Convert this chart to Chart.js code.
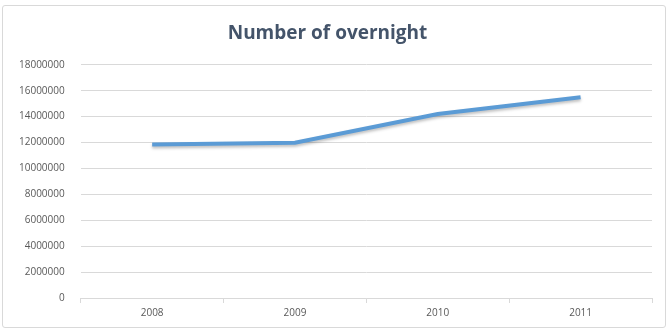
<!DOCTYPE html>
<html>
<head>
<meta charset="utf-8">
<script src="https://cdn.jsdelivr.net/npm/chart.js@4/dist/chart.umd.min.js"></script>
<style>
  html, body { margin: 0; padding: 0; background: #fff; }
  #wrap {
    position: absolute; left: 2px; top: 5px;
    width: 662px; height: 321px;
    border: 1px solid #d9d9d9; border-radius: 3px;
    background: #fff;
  }
</style>
</head>
<body>
<div id="wrap"><canvas id="overnightChart"></canvas></div>
<script>
// Data
const years = ['2008', '2009', '2010', '2011'];
const overnights = [11850000, 11980000, 14200000, 15500000];
const yTicks = [0, 2000000, 4000000, 6000000, 8000000, 10000000, 12000000, 14000000, 16000000, 18000000];

// soft drop shadow under the line, like the office chart
const shadowLine = {
    id: 'shadowLine',
    beforeDatasetsDraw(chart) {
        const ctx = chart.ctx;
        ctx.save();
        ctx.shadowColor = 'rgba(0, 0, 0, 0.25)';
        ctx.shadowBlur = 3;
        ctx.shadowOffsetY = 2;
    },
    afterDatasetsDraw(chart) {
        chart.ctx.restore();
    }
};

document.addEventListener('DOMContentLoaded', () => {
    const ctx = document.getElementById('overnightChart').getContext('2d');
    new Chart(ctx, {
        type: 'line',
        data: {
            labels: years,
            datasets: [{
                label: 'Number of overnight',
                data: overnights,
                borderColor: '#5b9bd5',
                borderWidth: 4,
                pointRadius: 0,
                tension: 0,
                fill: false
            }]
        },
        options: {
            responsive: true,
            maintainAspectRatio: false,
            animation: false,
            layout: { padding: { left: 0, right: 13, top: 4, bottom: 4 } },
            plugins: {
                legend: { display: false },
                tooltip: { enabled: false },
                title: {
                    display: true,
                    text: 'Number of overnight',
                    color: '#44546a',
                    font: { family: 'Open Sans', size: 19, weight: 'bold' },
                    padding: { top: 12, bottom: 20 }
                }
            },
            scales: {
                x: {
                    offset: true,
                    grid: {
                        offset: true,
                        drawOnChartArea: false,
                        drawTicks: true,
                        tickLength: 5,
                        color: '#d9d9d9'
                    },
                    border: { display: true, color: '#d9d9d9' },
                    ticks: {
                        color: '#595959',
                        font: { family: 'Open Sans', size: 10 },
                        padding: 4
                    }
                },
                y: {
                    min: 0,
                    max: 18000000,
                    afterBuildTicks: axis => {
                        axis.ticks = yTicks.map(v => ({ value: v }));
                    },
                    grid: {
                        color: '#d9d9d9',
                        drawTicks: false
                    },
                    border: { display: false },
                    ticks: {
                        color: '#595959',
                        font: { family: 'Open Sans', size: 10 },
                        padding: 16,
                        callback: value => String(value)
                    }
                }
            }
        },
        plugins: [shadowLine]
    });
});
</script>
</body>
</html>
